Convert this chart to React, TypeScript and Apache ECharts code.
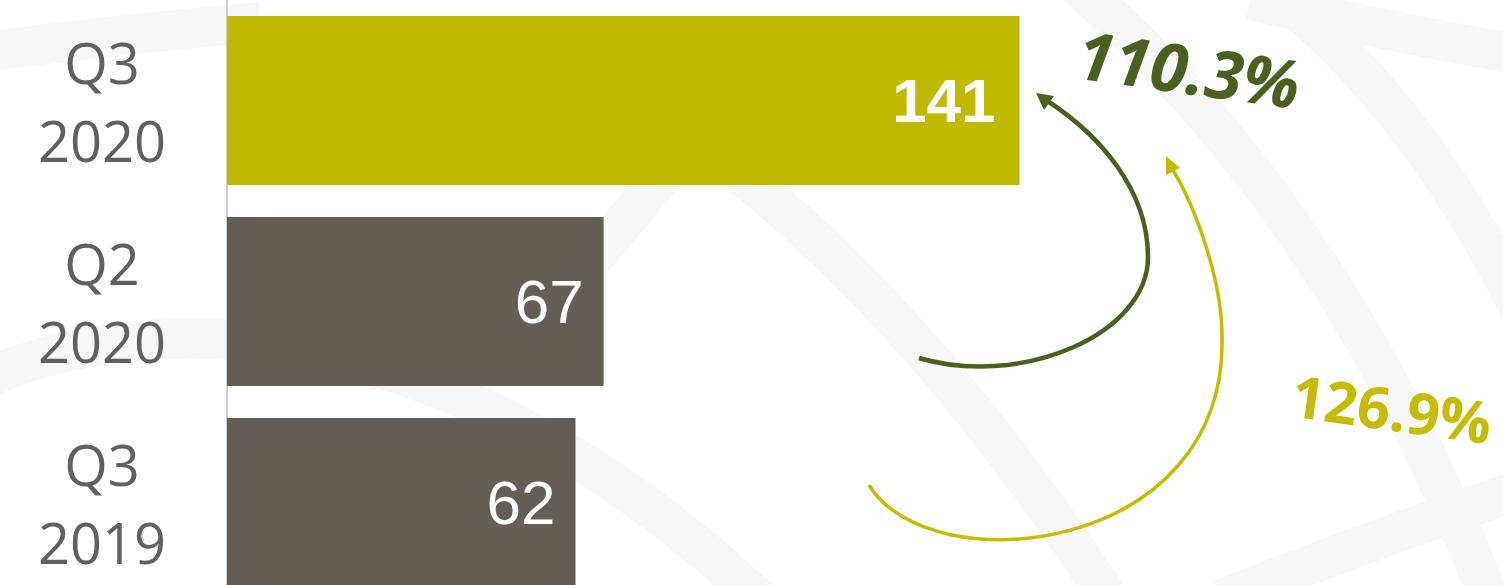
import { useEffect, useRef } from "react";
import * as echarts from "echarts";

// ---- data ----
const categories = ["Q3\n2020", "Q2\n2020", "Q3\n2019"];
const values = [141, 67, 62];
const changeLabels = ["110.3%", "126.9%"];

// ---- styles ----
const OLIVE = "#bfb900";
const TAUPE = "#655e57";
const DARK_GREEN = "#4b5f1e";
const YELLOW = "#c4bc00";
const LABEL_GREY = "#606060";
const BAND = "#f7f7f7";

const bandShapes = [
  { x1: -30, y1: 54, cpx1: 100, cpy1: 36, x2: 260, y2: 22 },
  { x1: -30, y1: 385, cpx1: 150, cpy1: 300, cpx2: 450, cpy2: 310, x2: 760, y2: 600 },
  { x1: 720, y1: 100, cpx1: 640, cpy1: 210, x2: 520, y2: 340 },
  { x1: 680, y1: 130, cpx1: 900, cpy1: 280, x2: 1110, y2: 600 },
  { x1: 1070, y1: -20, cpx1: 1330, cpy1: 200, x2: 1490, y2: 600 },
  { x1: 1260, y1: -20, cpx1: 1420, cpy1: 100, x2: 1530, y2: 330 },
  { x1: 1250, y1: 0, cpx1: 1380, cpy1: 30, x2: 1520, y2: 55 },
  { x1: 1220, y1: 600, cpx1: 1370, cpy1: 540, x2: 1520, y2: 490 },
];

export default function App() {
  const ref = useRef<HTMLDivElement>(null);

  useEffect(() => {
    if (!ref.current) return;
    const chart = echarts.init(ref.current, null, { renderer: "svg" });

    const watermark = bandShapes.map((s) => ({
      type: "bezierCurve",
      z: 0,
      silent: true,
      shape: s,
      style: { stroke: BAND, lineWidth: 40, fill: null },
    }));

    const arrows = [
      {
        type: "bezierCurve",
        z: 100,
        shape: { x1: 919, y1: 358, cpx1: 1020, cpy1: 388, cpx2: 1148, cpy2: 335, x2: 1148, y2: 257 },
        style: { stroke: DARK_GREEN, lineWidth: 4.5, fill: null },
      },
      {
        type: "bezierCurve",
        z: 100,
        shape: { x1: 1148, y1: 257, cpx1: 1148, cpy1: 190, cpx2: 1100, cpy2: 135, x2: 1046, y2: 100 },
        style: { stroke: DARK_GREEN, lineWidth: 4.5, fill: null },
      },
      {
        type: "polygon",
        z: 100,
        shape: { points: [[1036, 93], [1054, 96], [1044, 110]] },
        style: { fill: DARK_GREEN },
      },
      {
        type: "bezierCurve",
        z: 100,
        shape: { x1: 869, y1: 485, cpx1: 930, cpy1: 585, cpx2: 1228, cpy2: 555, x2: 1222, y2: 336 },
        style: { stroke: YELLOW, lineWidth: 3.5, fill: null },
      },
      {
        type: "bezierCurve",
        z: 100,
        shape: { x1: 1222, y1: 336, cpx1: 1222, cpy1: 280, cpx2: 1195, cpy2: 205, x2: 1171, y2: 167 },
        style: { stroke: YELLOW, lineWidth: 3.5, fill: null },
      },
      {
        type: "polygon",
        z: 100,
        shape: { points: [[1166, 156], [1180, 168], [1166, 175]] },
        style: { fill: YELLOW },
      },
      {
        type: "text",
        z: 100,
        x: 1189,
        y: 68,
        rotation: (-8 * Math.PI) / 180,
        style: {
          text: changeLabels[0],
          fill: DARK_GREEN,
          font: "italic bold 67px 'Open Sans'",
          align: "center",
          verticalAlign: "middle",
        },
      },
      {
        type: "text",
        z: 100,
        x: 1392,
        y: 408,
        rotation: (-8 * Math.PI) / 180,
        style: {
          text: changeLabels[1],
          fill: YELLOW,
          font: "bold 58px 'Open Sans'",
          align: "center",
          verticalAlign: "middle",
        },
      },
    ];

    chart.setOption({
      animation: false,
      backgroundColor: "#ffffff",
      grid: { left: 227, top: 0, right: 0, bottom: 0, containLabel: false, outerBoundsMode: "none" },
      xAxis: {
        type: "value",
        min: 0,
        max: 227,
        show: false,
      },
      yAxis: {
        type: "category",
        inverse: true,
        data: categories,
        axisLine: { show: true, lineStyle: { color: "#c0c0c0", width: 1.5 } },
        axisTick: { show: false },
        splitLine: { show: false },
        axisLabel: {
          align: "center",
          margin: 125,
          color: LABEL_GREY,
          fontFamily: "'Open Sans'",
          fontSize: 56,
          lineHeight: 78,
        },
      },
      series: [
        {
          type: "bar",
          barWidth: 169,
          z: 2,
          data: values.map((v, i) => ({
            value: v,
            itemStyle: { color: i === 0 ? OLIVE : TAUPE },
            label: i === 0 ? { fontWeight: "bold", fontSize: 62, distance: 24 } : {},
          })),
          label: {
            show: true,
            position: "insideRight",
            distance: 20,
            color: "#ffffff",
            fontFamily: "'Liberation Sans', Arial, sans-serif",
            fontSize: 62,
          },
        },
      ],
      graphic: [...watermark, ...arrows],
    });

    return () => chart.dispose();
  }, []);

  return (
    <div
      ref={ref}
      style={{ position: "fixed", left: 0, top: 0, width: 1503, height: 603, background: "#fff" }}
    />
  );
}
